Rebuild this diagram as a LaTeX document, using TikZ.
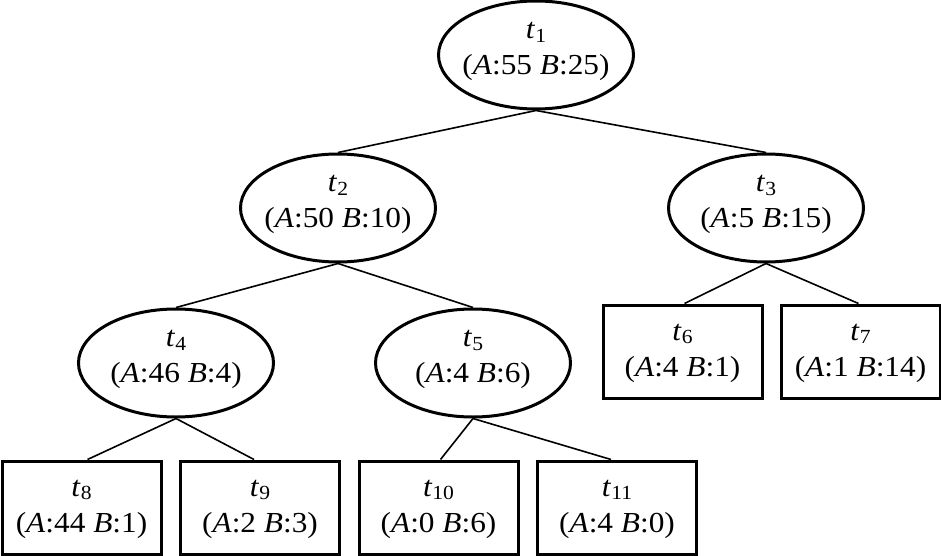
\documentclass[tikz,border=0pt]{standalone}
\usepackage{fontspec}
\usepackage{graphicx}
\setmainfont{Liberation Serif}
\usetikzlibrary{shapes.geometric}
\newcommand{\hsc}[1]{\scalebox{1.08}[1]{#1}}
\newcommand{\tsub}[1]{\hsc{\textit{t}\raisebox{-3.5pt}{\fontsize{20}{20}\selectfont #1}}}
\newcommand{\ab}[2]{\hsc{(\textit{A}:#1 \textit{B}:#2)}}
% oval text: extra depth lifts the two lines to sit as in the reference
\newcommand{\ndo}[3]{\tsub{#1}\\\ab{#2}{#3}\rule[-13pt]{0pt}{0pt}}
% box text: extra height lowers the two lines slightly
\newcommand{\ndb}[3]{\rule{0pt}{20pt}\tsub{#1}\\\ab{#2}{#3}}
\tikzset{
  base/.style={draw=black, line width=3pt, align=center, text=black,
    font=\fontsize{29}{36}\selectfont},
  oval/.style={base, ellipse, minimum width=195pt, minimum height=108pt,
    inner xsep=-30pt, inner ysep=0pt},
  leaf/.style={base, rectangle, minimum width=159pt, minimum height=93pt,
    inner sep=0pt},
  edge/.style={draw=black, line width=1.6pt}
}
\begin{document}
\begin{tikzpicture}[x=1pt,y=-1pt]
\useasboundingbox (0,0) rectangle (941,556);
\node[oval] (t1) at (536,55) {\ndo{1}{55}{25}};
\node[oval] (t2) at (338,208) {\ndo{2}{50}{10}};
\node[oval] (t3) at (766,208) {\ndo{3}{5}{15}};
\node[oval] (t4) at (176,363) {\ndo{4}{46}{4}};
\node[oval] (t5) at (473,363) {\ndo{5}{4}{6}};
\node[leaf] (t6) at (682.5,351.5) {\ndb{6}{4}{1}};
\node[leaf] (t7) at (860.5,351.5) {\ndb{7}{1}{14}};
\node[leaf] (t8) at (81.5,507.5) {\ndb{8}{44}{1}};
\node[leaf] (t9) at (260,507.5) {\ndb{9}{2}{3}};
\node[leaf] (t10) at (438.5,507.5) {\ndb{10}{0}{6}};
\node[leaf] (t11) at (617,507.5) {\ndb{11}{4}{0}};
\draw[edge] (t1.south) -- (t2.north);
\draw[edge] (t1.south) -- (t3.north);
\draw[edge] (t2.south) -- (t4.north);
\draw[edge] (t2.south) -- (t5.north);
\draw[edge] (t3.south) -- ([xshift=2pt]t6.north);
\draw[edge] (t3.south) -- ([xshift=-2pt]t7.north);
\draw[edge] (t4.south) -- ([xshift=6pt]t8.north);
\draw[edge] (t4.south) -- ([xshift=-6pt]t9.north);
\draw[edge] (t5.south) -- ([xshift=2pt]t10.north);
\draw[edge] (t5.south) -- ([xshift=-6pt]t11.north);
\end{tikzpicture}
\end{document}
